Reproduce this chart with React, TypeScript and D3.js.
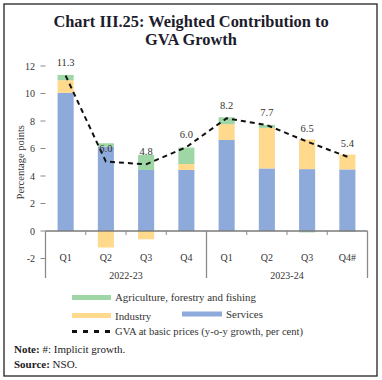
import React from "react";
import * as d3 from "d3";

const quarters = ["Q1", "Q2", "Q3", "Q4", "Q1", "Q2", "Q3", "Q4#"];
const years = ["2022-23", "2023-24"];
const services = [10.05, 6.13, 4.44, 4.44, 6.62, 4.55, 4.5, 4.48];
const industry = [0.92, -1.2, -0.6, 0.43, 1.15, 2.95, 2.15, 1.08];
const agriculture = [0.38, 0.25, 1.1, 1.2, 0.5, 0.22, -0.1, -0.05];
const gva = [11.3, 5.05, 4.85, 6.1, 8.2, 7.7, 6.5, 5.4];
const gvaLabels = ["11.3", "6.0", "4.8", "6.0", "8.2", "7.7", "6.5", "5.4"];
const yTicks = [-2, 0, 2, 4, 6, 8, 10, 12];

const COL_SERV = "#8eaadb";
const COL_IND = "#ffd98c";
const COL_AGR = "#9fd6a6";
const FONT = "'Liberation Serif', 'DejaVu Serif', serif";

export default function App() {
  const W = 382;
  const H = 380;
  const idx = quarters.map((_, i) => String(i));
  const x = d3.scaleBand<string>().domain(idx).range([45.5, 367.5]).paddingInner(0.6).paddingOuter(0.3);
  const y = d3.scaleLinear().domain([-2, 12]).range([258.5, 66]);
  const step = x.step();

  const seriesList = [
    { key: "serv", vals: services, color: COL_SERV },
    { key: "ind", vals: industry, color: COL_IND },
    { key: "agr", vals: agriculture, color: COL_AGR },
  ];

  const rects: React.ReactNode[] = [];
  quarters.forEach((_, i) => {
    let pos = 0;
    let neg = 0;
    seriesList.forEach((s) => {
      const v = s.vals[i];
      let a: number, b: number;
      if (v >= 0) {
        a = pos;
        b = pos + v;
        pos = b;
      } else {
        a = neg;
        b = neg + v;
        neg = b;
      }
      const top = y(Math.max(a, b));
      const bot = y(Math.min(a, b));
      rects.push(
        <rect key={s.key + i} x={x(String(i))} width={x.bandwidth()} y={top} height={bot - top} fill={s.color} />
      );
    });
  });

  const line = d3
    .line<number>()
    .x((_, i) => (x(String(i)) as number) + x.bandwidth() / 2)
    .y((d) => y(d));

  const y0 = y(0);
  const axisBottom = 278;
  const x0 = x.range()[0];
  const x1 = x.range()[1];
  const groupEdges = [x0, x0 + step * 4, x1];

  return (
    <svg width={W} height={H} style={{ position: "absolute", left: 0, top: 0, background: "#fff" }} fontFamily={FONT}>
      <rect x={4} y={4} width={373} height={372} fill="#fff" stroke="#222" strokeWidth={1.3} />
      <text x={191} y={27} textAnchor="middle" fontSize={16.4} fontWeight="bold" fill="#1c1c2c">
        Chart III.25: Weighted Contribution to
      </text>
      <text x={191} y={45} textAnchor="middle" fontSize={16.4} fontWeight="bold" fill="#1c1c2c">
        GVA Growth
      </text>

      {yTicks.map((t) => (
        <g key={t}>
          <line x1={40.5} x2={45.5} y1={y(t)} y2={y(t)} stroke="#888" strokeWidth={1} />
          <text x={35} y={y(t)} dy="0.35em" textAnchor="end" fontSize={10} fill="#333">
            {t}
          </text>
        </g>
      ))}
      <text transform={`translate(20,${y(5)}) rotate(-90)`} textAnchor="middle" fontSize={10.5} fill="#333" dy="0.35em">
        Percentage points
      </text>

      {rects}

      <line x1={x0} x2={x1} y1={y0} y2={y0} stroke="#7a7a7a" strokeWidth={1.5} />
      {quarters.map((_, i) =>
        i % 4 === 0 ? null : (
          <line key={"t" + i} x1={x0 + step * i} x2={x0 + step * i} y1={y0} y2={y0 + 4} stroke="#888" strokeWidth={1} />
        )
      )}
      {groupEdges.map((gx, i) => (
        <line key={"g" + i} x1={gx} x2={gx} y1={y0} y2={axisBottom} stroke="#8a8a8a" strokeWidth={1.3} />
      ))}
      {quarters.map((q, i) => (
        <text key={"q" + i} x={(x(String(i)) as number) + x.bandwidth() / 2} y={257} dy="0.35em" textAnchor="middle" fontSize={10} fill="#333">
          {q}
        </text>
      ))}
      {years.map((yr, i) => (
        <text key={yr} x={(groupEdges[i] + groupEdges[i + 1]) / 2} y={275} dy="0.35em" textAnchor="middle" fontSize={10} fill="#333">
          {yr}
        </text>
      ))}

      <path d={line(gva) as string} fill="none" stroke="#111" strokeWidth={2} strokeDasharray="5,4" />
      {gva.map((v, i) => (
        <text key={"l" + i} x={(x(String(i)) as number) + x.bandwidth() / 2} y={y(v) - 13} dy="0.35em" textAnchor="middle" fontSize={10.5} fill="#333">
          {gvaLabels[i]}
        </text>
      ))}

      <rect x={72} y={295} width={39} height={5} fill={COL_AGR} />
      <text x={115} y={297.5} dy="0.35em" fontSize={10.9} fill="#333">Agriculture, forestry and fishing</text>
      <rect x={72} y={313} width={39} height={5} fill={COL_IND} />
      <text x={115} y={316} dy="0.35em" fontSize={10.9} fill="#333">Industry</text>
      <rect x={182} y={311.5} width={40} height={5} fill={COL_SERV} />
      <text x={226} y={314} dy="0.35em" fontSize={10.9} fill="#333">Services</text>
      <line x1={72} x2={110} y1={331.5} y2={331.5} stroke="#111" strokeWidth={3} strokeDasharray="5,6" />
      <text x={115} y={331.5} dy="0.35em" fontSize={10.6} fill="#333">GVA at basic prices (y-o-y growth, per cent)</text>

      <text x={14} y={349} dy="0.35em" fontSize={11} fill="#222">
        <tspan fontWeight="bold">Note: </tspan>#: Implicit growth.
      </text>
      <text x={14} y={364} dy="0.35em" fontSize={11} fill="#222">
        <tspan fontWeight="bold">Source: </tspan>NSO.
      </text>
    </svg>
  );
}
